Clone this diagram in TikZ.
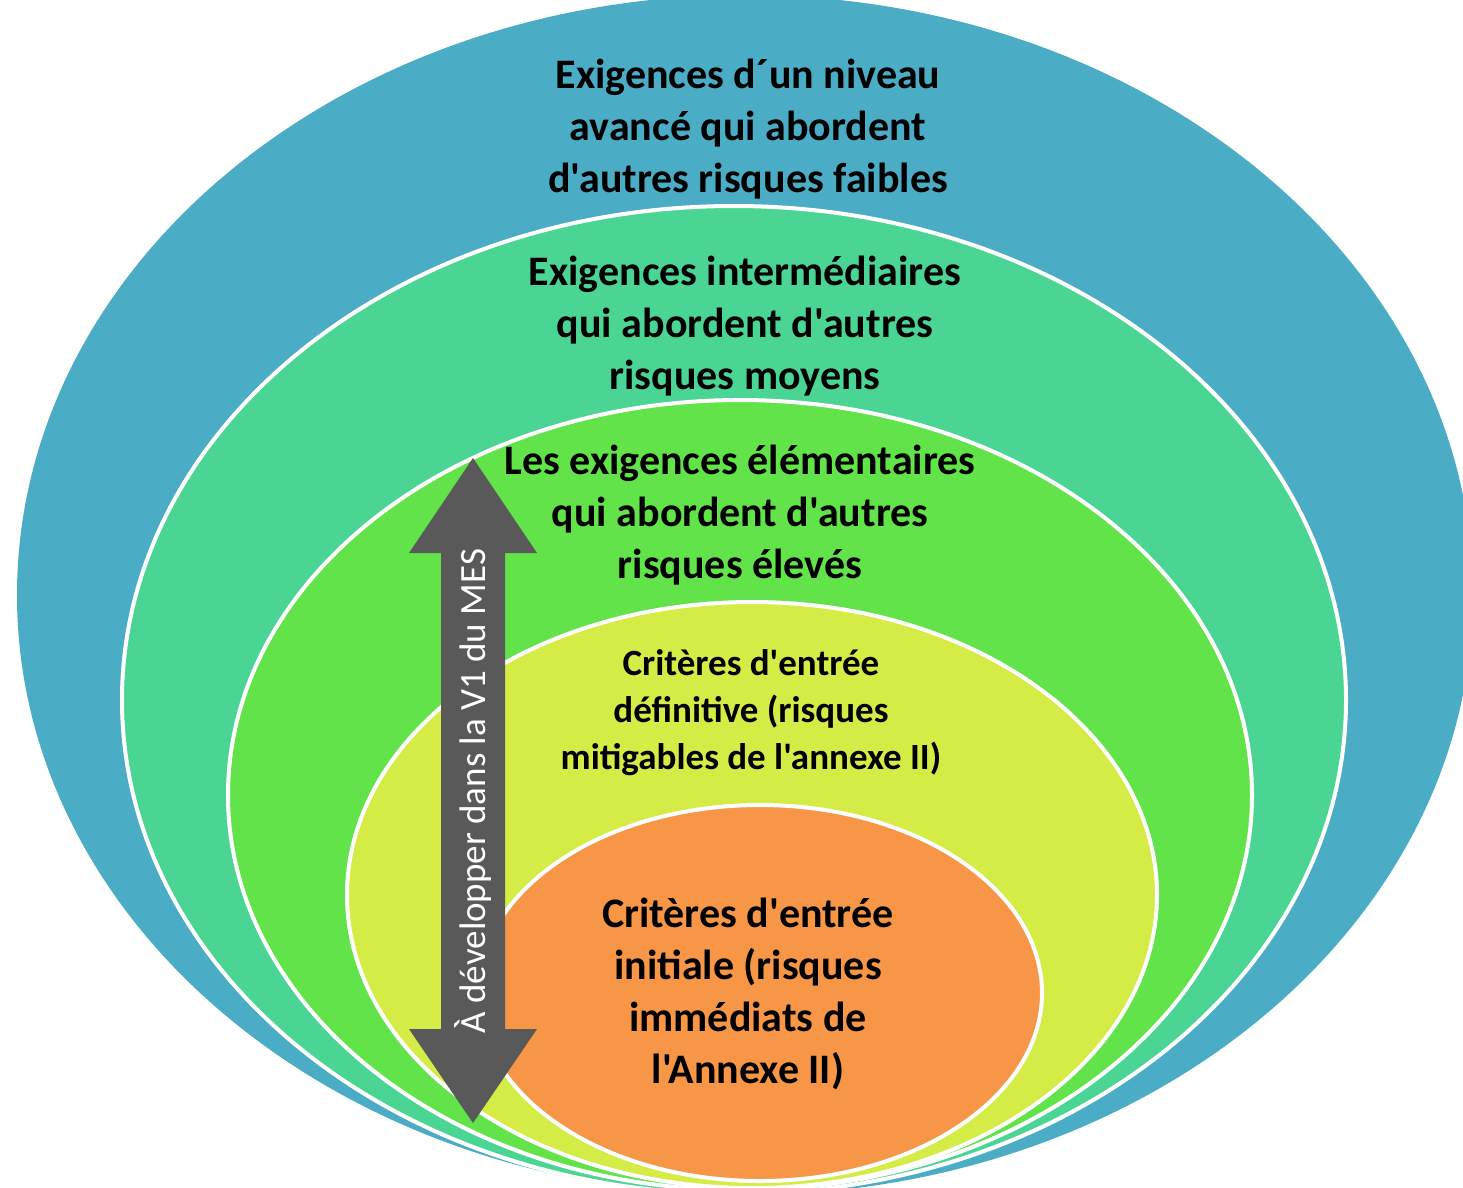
\documentclass[tikz,border=0pt]{standalone}
\usepackage{fontspec}
\newfontfamily\calibri{Carlito}
\usepackage{tikz}
\usetikzlibrary{positioning}

\definecolor{ringBlue}{HTML}{4BACC6}
\definecolor{ringTeal}{HTML}{4AD594}
\definecolor{ringGreen}{HTML}{62E34A}
\definecolor{ringLime}{HTML}{D4EC45}
\definecolor{ringOrange}{HTML}{F79646}
\definecolor{arrowGrey}{HTML}{595959}

\begin{document}
\begin{tikzpicture}[x=1pt, y=-1pt, ring/.style={draw=white, line width=4pt}, bigtext/.style={align=center, inner sep=0pt, font=\calibri\bfseries\fontsize{42}{52}\selectfont}, smalltext/.style={align=center, inner sep=0pt, font=\calibri\bfseries\fontsize{37}{47}\selectfont}, arrowtext/.style={rotate=90, inner sep=0pt, text=white, font=\calibri\fontsize{37}{40}\selectfont}]

    \useasboundingbox (0,0) rectangle (1463,1187);
    \clip (0,0) rectangle (1463,1187);

    %Rings
    \fill[ringBlue] (745,595) ellipse [x radius=728, y radius=600];
    \draw[ring, fill=ringTeal] (734,700) ellipse [x radius=612, y radius=494];
    \draw[ring, fill=ringGreen] (740,795) ellipse [x radius=512, y radius=395];
    \draw[ring, fill=ringLime] (752,895) ellipse [x radius=405, y radius=293];
    \draw[ring, fill=ringOrange] (760,993) ellipse [x radius=282, y radius=188];

    %Nodes
    \node[bigtext](avance) at (748,129){Exigences d´un niveau\\avancé qui abordent\\d'autres risques faibles};
    \node[bigtext](intermediaire) at (745,326){Exigences intermédiaires\\qui abordent d'autres\\risques moyens};
    \node[bigtext](elementaire) at (740,515){Les exigences élémentaires\\qui abordent d'autres\\risques élevés};
    \node[smalltext](definitive) at (751,713){Critères d'entrée\\définitive (risques\\mitigables de l'annexe II)};
    \node[bigtext](initiale) at (748,994){Critères d'entrée\\initiale (risques\\immédiats de\\l'Annexe II)};

    %Arrow
    \fill[arrowGrey] (473,458) -- (537,553) -- (505,553) -- (505,1029) -- (537,1029) -- (473,1123)
        -- (409,1029) -- (441,1029) -- (441,553) -- (409,553) -- cycle;
    \node[arrowtext](mes) at (473,791){À développer dans la V1 du MES};

\end{tikzpicture}
\end{document}
